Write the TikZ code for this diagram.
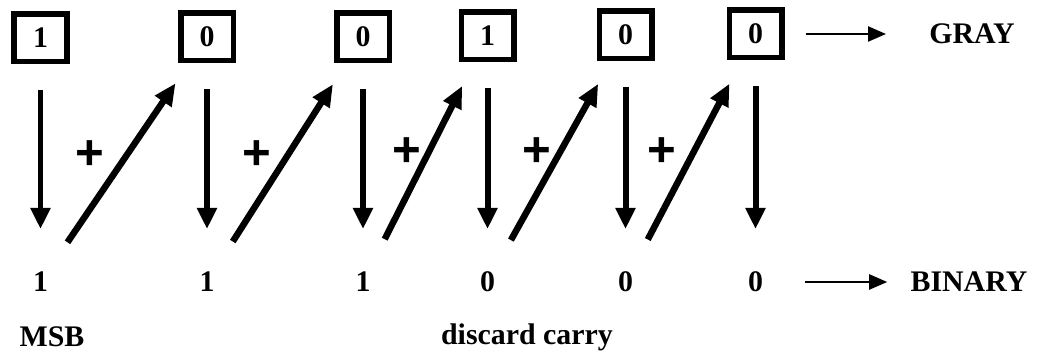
\documentclass[tikz,border=0pt]{standalone}
\usepackage{fontspec}
\setmainfont{Liberation Serif}
\newfontfamily\plusfont{Liberation Sans}
\usepackage{tikz}
\usetikzlibrary{arrows.meta}

\begin{document}
\begin{tikzpicture}[
  bit/.style={draw, line width=0.11cm, minimum width=1.05cm, minimum height=0.95cm, inner sep=0pt, font=\fontsize{17}{20}\selectfont\bfseries},
  digit/.style={inner sep=2pt, font=\fontsize{17}{20}\selectfont\bfseries},
  lab/.style={inner sep=2pt, font=\fontsize{17}{20}\selectfont\bfseries},
  plus/.style={inner sep=0pt, font=\fontsize{28}{30}\selectfont\plusfont\bfseries},
  down/.style={-{Triangle[length=0.42cm, width=0.38cm]}, line width=0.12cm, shorten <=1.04cm, shorten >=1.06cm},
  diag/.style={-{Triangle[length=0.44cm, width=0.38cm]}, line width=0.13cm, shorten <=0.96cm, shorten >=1.12cm},
  pointer/.style={-{Triangle[length=0.36cm, width=0.3cm]}, line width=0.045cm}
]
\useasboundingbox (0,0) rectangle (20.8,7.16);
% gray code
\node[bit] (g1) at (0.81,6.40) {1};
\node[bit] (g2) at (4.14,6.42) {0};
\node[bit] (g3) at (7.26,6.42) {0};
\node[bit] (g4) at (9.75,6.44) {1};
\node[bit] (g5) at (12.51,6.46) {0};
\node[bit] (g6) at (15.11,6.48) {0};
\node[lab] (gray) at (19.44,6.48) {GRAY};
% binary result
\node[digit] (b1) at (0.81,1.52) {1};
\node[digit] (b2) at (4.14,1.52) {1};
\node[digit] (b3) at (7.26,1.52) {1};
\node[digit] (b4) at (9.75,1.52) {0};
\node[digit] (b5) at (12.51,1.52) {0};
\node[digit] (b6) at (15.11,1.52) {0};
\node[lab] (binary) at (19.38,1.52) {BINARY};
\node[lab] (msb) at (1.04,0.42) {MSB};
\node[lab] (carry) at (10.54,0.42) {discard carry};
% xor signs
\node[plus] (p1) at (1.8,4.06) {+};
\node[plus] (p2) at (5.14,4.06) {+};
\node[plus] (p3) at (8.14,4.12) {+};
\node[plus] (p4) at (10.74,4.12) {+};
\node[plus] (p5) at (13.24,4.12) {+};
\draw[down] (g1.center) -- (b1.center);
\draw[down] (g2.center) -- (b2.center);
\draw[down] (g3.center) -- (b3.center);
\draw[down] (g4.center) -- (b4.center);
\draw[down] (g5.center) -- (b5.center);
\draw[down] (g6.center) -- (b6.center);
\draw[diag] (b1.center) -- (g2.center);
\draw[diag] (b2.center) -- (g3.center);
\draw[diag] (b3.center) -- (g4.center);
\draw[diag] (b4.center) -- (g5.center);
\draw[diag] (b5.center) -- (g6.center);
\draw[pointer, shorten <=0.42cm, shorten >=0.79cm] (g6) -- (gray);
\draw[pointer, shorten <=0.77cm, shorten >=0.39cm] (b6) -- (binary);
\end{tikzpicture}
\end{document}
